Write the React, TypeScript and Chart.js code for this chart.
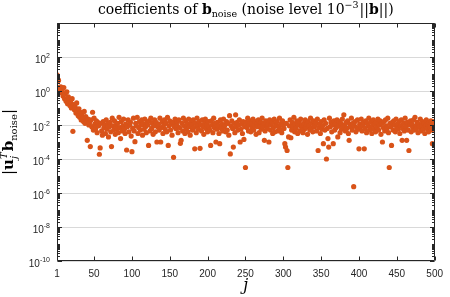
import { useEffect, useRef } from "react";
import { Chart, registerables } from "chart.js";

Chart.register(...registerables);

// x ticks (index j) and y tick exponents (log scale)
const xTickValues = [1, 50, 100, 150, 200, 250, 300, 350, 400, 450, 500];
const yTickExponents = [-10, -8, -6, -4, -2, 0, 2, 4];
const yLabelExponents = [-10, -8, -6, -4, -2, 0, 2];
const yMinExp = -10;
const yMaxExp = 4;
const xMin = 1;
const xMax = 500;

// log10 |u_j^T b_noise| for j = 1..500
const log10Coefficients = [
  0.95, 0.7, 0.62, 0.22, 0.05, 0.25, -0.1, 0.1, -0.3, 0.2,
  -0.45, -0.15, -0.6, -0.05, -0.75, -0.35, -0.5, -0.85, -0.65, -1.0,
  -0.45, -2.37, -0.8, -1.1, -0.95, -1.3, -0.7, -1.2, -1.45, -1.05,
  -1.55, -1.25, -1.7, -1.35, -1.6, -1.8, -1.2, -1.9, -1.5, -1.75,
  -2.9, -1.65, -2.0, -1.85, -3.27, -1.7, -2.1, -1.25, -2.3, -1.6,
  -1.95, -2.2, -1.75, -2.45, -1.85, -2.05, -3.72, -3.35, -1.9, -2.35,
  -2.6, -1.8, -2.15, -2.0, -2.5, -1.7, -2.25, -1.95, -2.7, -2.1,
  -1.85, -2.4, -3.27, -1.6, -2.05, -2.3, -1.75, -2.55, -2.0, -2.2,
  -1.9, -2.45, -1.55, -2.15, -2.8, -1.8, -2.35, -2.05, -1.65, -2.25,
  -2.5, -1.95, -3.47, -2.1, -1.7, -2.4, -2.0, -1.85, -2.65, -3.57,
  -2.2, -1.6, -2.35, -2.98, -1.9, -2.05, -1.55, -2.5, -2.15, -1.8,
  -2.3, -2.0, -1.7, -2.6, -1.95, -2.25, -1.65, -2.1, -2.45, -1.85,
  -2.0, -3.2, -1.75, -2.35, -1.6, -2.2, -1.9, -2.55, -2.05, -1.7,
  -2.4, -1.85, -3.0, -2.1, -1.95, -2.3, -1.6, -3.0, -2.15, -1.8,
  -2.5, -2.0, -1.7, -2.25, -1.9, -2.4, -1.55, -3.2, -2.05, -1.75,
  -2.3, -1.95, -2.6, -1.85, -3.9, -2.1, -1.65, -2.2, -2.0, -1.8,
  -2.45, -1.7, -2.15, -3.08, -2.9, -1.9, -2.35, -1.6, -2.05, -2.5,
  -1.75, -2.2, -1.95, -2.4, -1.65, -2.1, -2.6, -1.85, -2.0, -2.3,
  -1.7, -2.15, -3.4, -1.9, -2.45, -1.6, -2.05, -2.25, -1.8, -3.37,
  -2.0, -2.35, -1.7, -2.1, -2.55, -1.9, -1.65, -2.2, -2.0, -2.4,
  -1.8, -2.1, -2.3, -3.2, -1.75, -2.0, -2.45, -1.6, -2.15, -1.9,
  -3.0, -2.25, -1.85, -2.05, -2.5, -3.1, -1.7, -2.2, -1.95, -2.35,
  -1.65, -2.1, -2.0, -2.4, -1.8, -2.3, -1.9, -2.6, -1.45, -3.7,
  -2.05, -1.75, -2.2, -3.3, -1.9, -2.45, -1.4, -2.1, -1.85, -2.3,
  -2.0, -1.7, -3.0, -2.25, -1.95, -2.5, -1.8, -2.85, -2.1, -4.5,
  -1.85, -2.15, -1.6, -2.35, -2.0, -1.75, -2.4, -1.9, -2.2, -1.65,
  -2.3, -2.05, -1.8, -2.55, -1.95, -2.1, -1.7, -2.45, -2.0, -1.85,
  -2.25, -1.6, -2.1, -1.9, -2.9, -2.35, -1.75, -2.05, -2.2, -1.95,
  -3.0, -1.7, -2.3, -2.0, -1.85, -2.5, -2.15, -1.65, -2.4, -1.9,
  -2.05, -1.8, -2.35, -2.1, -1.6, -2.25, -1.95, -2.45, -1.75, -2.0,
  -2.2, -3.1, -3.3, -1.9, -3.5, -4.5, -2.7, -2.05, -1.7, -2.75,
  -2.3, -1.85, -2.1, -1.55, -2.4, -1.95, -2.2, -1.75, -2.5, -2.0,
  -1.8, -2.35, -1.65, -2.1, -2.0, -2.45, -1.9, -2.25, -1.7, -2.15,
  -1.95, -2.55, -1.8, -2.05, -2.3, -1.6, -2.2, -1.9, -2.4, -1.75,
  -2.1, -2.0, -1.85, -2.35, -1.65, -3.5, -2.15, -1.95, -2.5, -1.8,
  -2.25, -2.05, -3.1, -1.7, -2.3, -1.9, -4.0, -2.2, -2.8, -3.3,
  -1.6, -2.1, -1.85, -2.4, -2.0, -3.1, -1.75, -2.3, -1.95, -2.15,
  -1.7, -2.7, -2.05, -1.8, -2.45, -1.9, -2.25, -1.65, -2.1, -1.4,
  -2.0, -2.35, -1.85, -2.2, -1.75, -2.5, -2.9, -1.95, -2.1, -1.6,
  -2.3, -1.9, -5.63, -2.05, -1.8, -2.4, -2.15, -1.7, -2.25, -3.4,
  -1.95, -2.1, -1.65, -2.35, -2.0, -1.85, -3.4, -2.2, -1.75, -2.45,
  -1.9, -2.05, -1.6, -2.3, -2.15, -1.8, -2.5, -2.0, -1.7, -2.25,
  -1.95, -2.4, -1.85, -2.1, -1.65, -2.3, -2.0, -1.75, -2.55, -1.9,
  -3.0, -2.15, -1.8, -2.35, -1.7, -2.05, -2.2, -1.6, -2.45, -4.5,
  -1.9, -2.1, -3.2, -1.85, -2.3, -1.75, -2.0, -2.4, -1.65, -2.15,
  -1.95, -2.25, -1.8, -2.5, -2.05, -1.7, -2.9, -2.2, -1.9, -2.35,
  -1.6, -2.1, -2.9, -1.85, -2.3, -3.5, -2.0, -1.75, -2.4, -1.95,
  -2.15, -1.7, -2.3, -1.55, -2.05, -2.2, -1.85, -2.45, -1.95, -2.1,
  -1.65, -2.35, -2.0, -1.8, -2.25, -1.9, -2.5, -2.05, -1.7, -2.2,
  -1.95, -2.4, -1.85, -2.1, -1.75, -2.3, -3.1, -2.0, -1.8, -2.15,
];

const MARKER_COLOR = "#D95319";
const AXIS_COLOR = "#262626";
const GRID_COLOR = "#d9d9d9";
const SERIF = "'DejaVu Serif', 'Liberation Serif', serif";
const SANS = "'Liberation Sans', Arial, sans-serif";

type Seg = { text: string; font: string; dy?: number; noAdvance?: boolean; dx?: number };

function drawRich(ctx: CanvasRenderingContext2D, segs: Seg[], x: number, y: number) {
  const widths = segs.map((s) => {
    ctx.font = s.font;
    return ctx.measureText(s.text).width + (s.dx || 0);
  });
  let total = 0;
  segs.forEach((s, i) => {
    if (!s.noAdvance) total += widths[i];
  });
  let cx = x - total / 2;
  ctx.textAlign = "left";
  ctx.textBaseline = "alphabetic";
  segs.forEach((s, i) => {
    ctx.font = s.font;
    ctx.fillText(s.text, cx, y + (s.dy || 0));
    if (!s.noAdvance) cx += widths[i];
  });
}

const decorPlugin = {
  id: "matlabDecor",
  afterDraw(chart: any) {
    const ctx: CanvasRenderingContext2D = chart.ctx;
    const { left, right, top, bottom } = chart.chartArea;
    const xs = chart.scales.x;
    const ys = chart.scales.y;
    ctx.save();
    ctx.strokeStyle = AXIS_COLOR;
    ctx.fillStyle = AXIS_COLOR;
    ctx.lineWidth = 1;
    const L = Math.round(left) + 0.5;
    const R = Math.round(right) - 0.5;
    const T = Math.round(top) + 0.5;
    const B = Math.round(bottom) - 0.5;
    ctx.beginPath();
    ctx.rect(L, T, R - L, B - T);
    ctx.stroke();

    // x ticks (inward, top and bottom)
    ctx.beginPath();
    xTickValues.forEach((v) => {
      const px = Math.round(xs.getPixelForValue(v)) + 0.5;
      ctx.moveTo(px, B);
      ctx.lineTo(px, B - 4);
      ctx.moveTo(px, T);
      ctx.lineTo(px, T + 4);
    });
    // y ticks (major at labelled decades, minor elsewhere)
    for (let e = yMinExp; e <= yMaxExp; e++) {
      for (let m = 1; m <= 9; m++) {
        const val = m * Math.pow(10, e);
        if (val > Math.pow(10, yMaxExp) * 1.0001) break;
        const py = Math.round(ys.getPixelForValue(val)) + 0.5;
        const len = m === 1 && yTickExponents.includes(e) ? 4.5 : 2.5;
        ctx.moveTo(L, py);
        ctx.lineTo(L + len, py);
        ctx.moveTo(R, py);
        ctx.lineTo(R - len, py);
      }
    }
    ctx.stroke();

    // y tick labels 10^e
    const baseFont = `10px ${SANS}`;
    const supFont = `7px ${SANS}`;
    ctx.textBaseline = "alphabetic";
    ctx.textAlign = "left";
    yLabelExponents.forEach((e) => {
      const py = ys.getPixelForValue(Math.pow(10, e));
      const expText = e < 0 ? `-${Math.abs(e)}` : `${e}`;
      ctx.font = baseFont;
      const wb = ctx.measureText("10").width;
      ctx.font = supFont;
      const we = ctx.measureText(expText).width;
      const xr = left - 7;
      const x0 = xr - wb - we;
      ctx.font = baseFont;
      ctx.fillText("10", x0, py + 6);
      ctx.font = supFont;
      ctx.fillText(expText, x0 + wb, py + 1);
    });

    // title
    ctx.fillStyle = "#000000";
    const tf = `14px ${SERIF}`;
    const tb = `bold 14px ${SERIF}`;
    const ts = `9.5px ${SERIF}`;
    drawRich(
      ctx,
      [
        { text: "coefficients of ", font: tf },
        { text: "b", font: tb },
        { text: "noise", font: ts, dy: 3 },
        { text: " (noise level 10", font: tf },
        { text: "\u22123", font: ts, dy: -6, dx: 1 },
        { text: "||", font: tf },
        { text: "b", font: tb },
        { text: "||)", font: tf },
      ],
      (left + right) / 2,
      14
    );

    // x label
    drawRich(ctx, [{ text: "j", font: `italic 16px ${SERIF}` }], (left + right) / 2, 290);

    // y label (rotated)
    ctx.save();
    ctx.translate(13, (top + bottom) / 2);
    ctx.rotate(-Math.PI / 2);
    const lf = `15px ${SERIF}`;
    const lb = `bold 15px ${SERIF}`;
    const li = `italic 10px ${SERIF}`;
    const ls = `10px ${SERIF}`;
    drawRich(
      ctx,
      [
        { text: "|", font: lf },
        { text: "u", font: lb },
        { text: "j", font: li, dy: 4, noAdvance: true },
        { text: "T", font: li, dy: -6, dx: 1 },
        { text: "b", font: lb },
        { text: "noise", font: ls, dy: 4 },
        { text: "|", font: lf },
      ],
      0,
      0
    );
    ctx.restore();
    ctx.restore();
  },
};

export default function App() {
  const canvasRef = useRef<HTMLCanvasElement | null>(null);

  useEffect(() => {
    const canvas = canvasRef.current;
    if (!canvas) return;
    const points = log10Coefficients.map((e, i) => ({ x: i + 1, y: Math.pow(10, e) }));
    const chart = new Chart(canvas, {
      type: "scatter",
      data: {
        datasets: [
          {
            data: points,
            backgroundColor: MARKER_COLOR,
            borderColor: MARKER_COLOR,
            borderWidth: 0,
            pointRadius: 2.6,
            pointHoverRadius: 2.6,
          },
        ],
      },
      options: {
        animation: false,
        responsive: false,
        devicePixelRatio: 1,
        events: [],
        layout: { padding: { top: 23, right: 10, left: 0, bottom: 0 } },
        plugins: {
          legend: { display: false },
          title: { display: false },
          tooltip: { enabled: false },
        },
        scales: {
          x: {
            type: "linear",
            min: xMin,
            max: xMax,
            afterBuildTicks: (scale: any) => {
              scale.ticks = xTickValues.map((v) => ({ value: v }));
            },
            afterFit: (scale: any) => {
              scale.height = 36;
            },
            grid: { display: false, drawTicks: false },
            border: { display: false },
            ticks: {
              autoSkip: false,
              maxRotation: 0,
              padding: 7,
              color: AXIS_COLOR,
              font: { family: SANS, size: 10 },
              callback: (v: any) => `${v}`,
            },
          },
          y: {
            type: "logarithmic",
            min: Math.pow(10, yMinExp),
            max: Math.pow(10, yMaxExp),
            afterBuildTicks: (scale: any) => {
              scale.ticks = yTickExponents.map((e) => ({ value: Math.pow(10, e) }));
            },
            afterFit: (scale: any) => {
              scale.width = 57;
            },
            grid: { display: true, color: GRID_COLOR, lineWidth: 1, drawTicks: false },
            border: { display: false },
            ticks: { display: false },
          },
        },
      },
      plugins: [decorPlugin],
    });
    return () => chart.destroy();
  }, []);

  return (
    <div style={{ position: "absolute", left: 0, top: 0, width: 450, height: 297, background: "#ffffff" }}>
      <canvas ref={canvasRef} width={450} height={297} style={{ width: 450, height: 297, display: "block" }} />
    </div>
  );
}
